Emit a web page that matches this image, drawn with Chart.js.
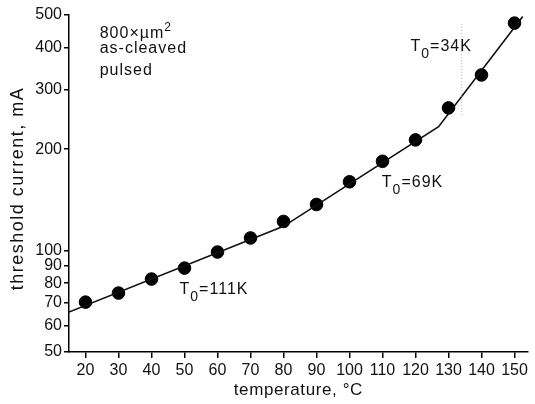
<!DOCTYPE html>
<html>
<head>
<meta charset="utf-8">
<script src="https://cdn.jsdelivr.net/npm/chart.js@4"></script>
<style>
  body { margin: 0; background: #fff; }
  #wrap { width: 535px; height: 404px; }
</style>
</head>
<body>
<div id="wrap"><canvas id="myChart" width="535" height="404"></canvas></div>
<script>
// measured points
const temps = [20, 30, 40, 50, 60, 70, 80, 90, 100, 110, 120, 130, 140, 150]
const current = [70.3, 74.8, 82.3, 88.7, 99, 109, 122, 137, 160, 184, 213, 265, 332, 473]

// fitted line (three T0 segments)
const fitT = [15, 80, 127, 152.5]
const fitI = [65.7, 118, 233, 495]

// faint dotted guide near 134 C
const guideT = [134, 134]
const guideI = [470, 252]

const xTicks = [20, 30, 40, 50, 60, 70, 80, 90, 100, 110, 120, 130, 140, 150]
const yTicks = [50, 60, 70, 80, 90, 100, 200, 300, 400, 500]

const xTitle = 'temperature, °C'
const yTitle = 'threshold current, mA'

const fontName = "'Liberation Sans', Arial, sans-serif"

function pts(xs, ys) {
    return xs.map((x, i) => ({ x: x, y: ys[i] }))
}

// text notes, placed in data units
const notes = [
    { x: 24.3, y: 440, parts: [['800×µm', 0], ['2', -1]] },
    { x: 24.3, y: 397, parts: [['as-cleaved', 0]] },
    { x: 24.3, y: 343, parts: [['pulsed', 0]] },
    { x: 118.5, y: 402, parts: [['T', 0], ['0', 1], ['=34K', 0]] },
    { x: 109.8, y: 159, parts: [['T', 0], ['0', 1], ['=69K', 0]] },
    { x: 48.5, y: 76.5, parts: [['T', 0], ['0', 1], ['=111K', 0]] }
]

const notePlugin = {
    id: 'notes',
    afterDraw(chart) {
        const ctx = chart.ctx
        const xs = chart.scales.x, ys = chart.scales.y
        const area = chart.chartArea
        ctx.save()
        ctx.fillStyle = '#111'
        ctx.textBaseline = 'middle'
        ctx.textAlign = 'left'
        ctx.letterSpacing = '1px'
        notes.forEach(n => {
            let px = xs.getPixelForValue(n.x)
            const py = ys.getPixelForValue(n.y)
            n.parts.forEach(p => {
                let size = 16, dy = 0
                if (p[1] === 1) { size = 14; dy = 7 }
                if (p[1] === -1) { size = 12; dy = -6 }
                ctx.font = size + 'px ' + fontName
                ctx.fillText(p[0], px, py + dy)
                px += ctx.measureText(p[0]).width
            })
        })

        // axis titles
        ctx.textAlign = 'center'
        ctx.font = '17px ' + fontName
        ctx.letterSpacing = '0.6px'
        ctx.fillText(xTitle, (area.left + area.right) / 2, 390)

        ctx.translate(18, (area.top + area.bottom) / 2 + 5)
        ctx.rotate(-Math.PI / 2)
        ctx.font = '18px ' + fontName
        ctx.letterSpacing = '1.5px'
        ctx.fillText(yTitle, 0, 0)
        ctx.restore()
    }
}

const config = {
    type: 'scatter',
    data: {
        datasets: [
            {
                data: pts(guideT, guideI),
                showLine: true,
                borderColor: 'rgba(150,150,150,0.7)',
                borderWidth: 1,
                borderDash: [1, 2],
                pointRadius: 0
            },
            {
                data: pts(fitT, fitI),
                showLine: true,
                borderColor: '#111',
                borderWidth: 1.6,
                pointRadius: 0
            },
            {
                data: pts(temps, current),
                showLine: false,
                backgroundColor: '#000',
                borderColor: '#000',
                pointRadius: 6.3,
                pointHoverRadius: 6.3
            }
        ]
    },
    options: {
        responsive: false,
        animation: false,
        layout: { padding: { top: 15, right: 2, left: 0, bottom: 0 } },
        plugins: { legend: { display: false }, tooltip: { enabled: false } },
        scales: {
            x: {
                type: 'linear',
                min: 15,
                max: 154,
                afterBuildTicks: s => { s.ticks = xTicks.map(v => ({ value: v })) },
                afterFit: s => { s.height = 52 },
                grid: { drawOnChartArea: false, drawTicks: true, tickLength: 6, color: '#000', lineWidth: 1.5 },
                border: { display: true, color: '#000', width: 1.5 },
                ticks: { color: '#111', font: { family: fontName, size: 16 }, padding: 3, maxRotation: 0, autoSkip: false }
            },
            y: {
                type: 'logarithmic',
                min: 50,
                max: 500,
                afterBuildTicks: s => { s.ticks = yTicks.map(v => ({ value: v })) },
                afterFit: s => { s.width = 69 },
                grid: { drawOnChartArea: false, drawTicks: true, tickLength: 5, color: '#000', lineWidth: 1.5 },
                border: { display: true, color: '#000', width: 1.5 },
                ticks: { color: '#111', font: { family: fontName, size: 16 }, padding: 2, autoSkip: false, callback: v => String(v) }
            }
        }
    },
    plugins: [notePlugin]
}

const myChart = new Chart(document.getElementById('myChart'), config)
</script>
</body>
</html>
